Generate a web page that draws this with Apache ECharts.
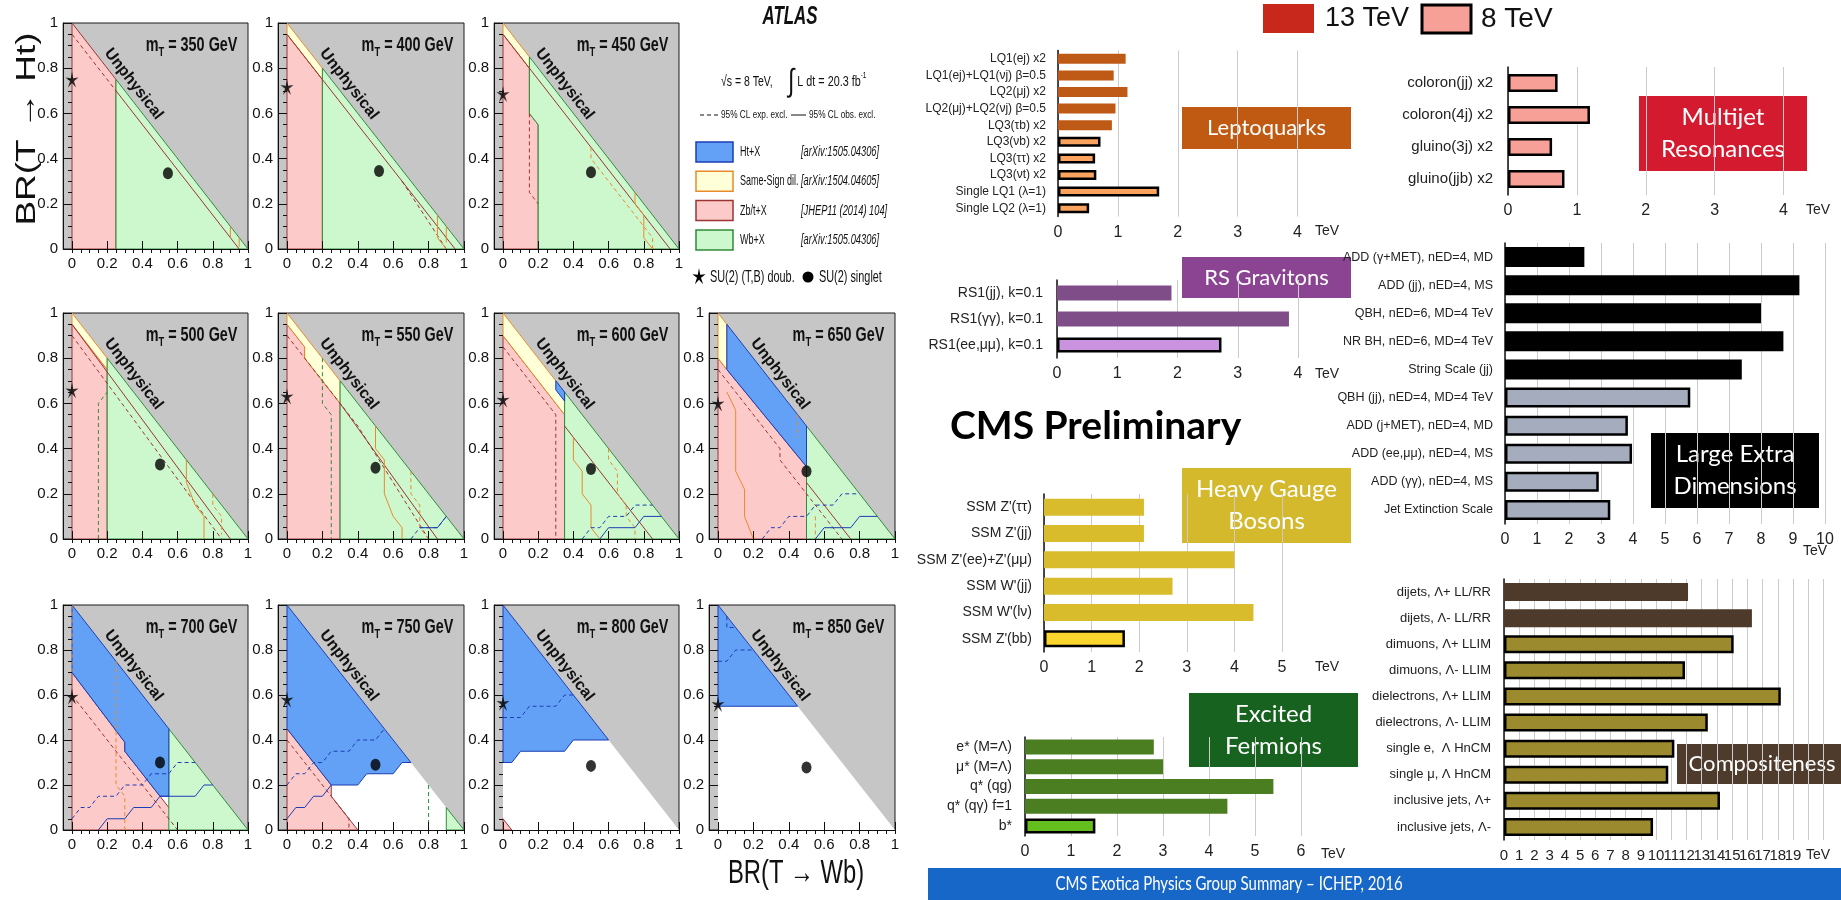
<!DOCTYPE html>
<html>
<head>
<meta charset="utf-8">
<script src="https://cdn.jsdelivr.net/npm/echarts@6/dist/echarts.min.js"></script>
<style>
html, body { margin: 0; padding: 0; background: #fff; }
#c { width: 1841px; height: 900px; }
</style>
</head>
<body>
<div id="c"></div>
<script>
// ================= ATLAS: vector-like T quark, BR plane exclusions =================
const massPoints = [350, 400, 450, 500, 550, 600, 650, 700, 750, 800, 850];
// SU(2) (T,B) doublet: BR(T->Wb)=0, BR(T->Ht) below
const doubletHt = [0.75, 0.717, 0.686, 0.658, 0.631, 0.617, 0.60, 0.593, 0.58, 0.565, 0.56];
// SU(2) singlet
const singletWb = [0.545, 0.52, 0.5, 0.5, 0.5, 0.5, 0.5, 0.5, 0.5, 0.5, 0.5];
const singletHt = [0.335, 0.345, 0.34, 0.33, 0.315, 0.31, 0.30, 0.30, 0.29, 0.285, 0.278];

// excluded regions, points are [BR(T->Wb), BR(T->Ht)], one entry per mass point
const excludedZbt = [
  [[0,0],[0,1],[0.25,0.75],[0.25,0]],
  [[0,0],[0,0.95],[0.2,0.75],[0.2,0]],
  [[0,0],[0,0.95],[0.15,0.8],[0.15,0.6],[0.2,0.55],[0.2,0]],
  [[0,0],[0,0.95],[0.2,0.75],[0.2,0]],
  [[0,0],[0,0.95],[0.1,0.85],[0.1,0.8],[0.3,0.6],[0.3,0]],
  [[0,0],[0,0.9],[0.35,0.55],[0.35,0]],
  [[0,0],[0,0.8],[0.05,0.75],[0.5,0.32],[0.5,0]],
  [[0,0],[0,0.7],[0.3,0.39],[0.3,0.35],[0.65,0]],
  [[0,0],[0,0.45],[0.25,0.2],[0.25,0.15],[0.4,0]],
  [[0,0],[0,0.05],[0.05,0]],
  null
];
const excludedSSdil = [
  null,
  [[0,1],[0.2,0.8],[0.2,0.75],[0,0.95]],
  [[0,1],[0.15,0.85],[0.15,0.8],[0,0.95]],
  [[0,1],[0.2,0.8],[0.2,0.75],[0,0.95]],
  [[0,1],[0.3,0.7],[0.3,0.6],[0.1,0.8],[0.1,0.85],[0,0.95]],
  [[0,1],[0.35,0.65],[0.35,0.55],[0,0.9]],
  [[0,1],[0.05,0.95],[0.05,0.75],[0,0.8]],
  null, null, null, null
];
const excludedWb = [
  [[0.25,0],[0.25,0.75],[1,0]],
  [[0.2,0],[0.2,0.8],[1,0]],
  [[0.2,0],[0.2,0.55],[0.15,0.6],[0.15,0.85],[1,0]],
  [[0.2,0],[0.2,0.8],[1,0]],
  [[0.3,0],[0.3,0.7],[1,0]],
  [[0.35,0],[0.35,0.65],[1,0]],
  [[0.5,0],[0.5,0.5],[1,0]],
  [[0.55,0],[0.55,0.45],[1,0]],
  [[0.9,0],[0.9,0.1],[1,0]],
  null, null
];
const excludedHt = [
  null, null, null, null, null,
  [[0.3,0.7],[0.35,0.65],[0.35,0.61],[0.3,0.66]],
  [[0.05,0.95],[0.5,0.5],[0.5,0.32],[0.05,0.75]],
  [[0,1],[0.55,0.45],[0.55,0.15],[0.5,0.15],[0.3,0.35],[0.3,0.39],[0,0.7]],
  [[0,1],[0.7,0.3],[0.65,0.3],[0.6,0.25],[0.45,0.25],[0.4,0.2],[0.25,0.2],[0,0.45]],
  [[0,1],[0.6,0.4],[0.4,0.4],[0.35,0.35],[0.1,0.35],[0.05,0.3],[0,0.3]],
  [[0,1],[0.45,0.55],[0,0.55]]
];

// 95% CL contours: [mass index, analysis, 'obs' | 'exp', points]
const limitContours = [
  [0,'Zbt','obs',[[0.25,0.7],[0.95,0]]],
  [0,'Zbt','exp',[[0,0.95],[0.25,0.7]]],
  [0,'SS','obs',[[0.9,0.1],[0.9,0.05]]],
  [0,'SS','obs',[[0.95,0.05],[0.95,0.01]]],
  [1,'Zbt','obs',[[0,0.95],[0.95,0]]],
  [1,'Zbt','exp',[[0.65,0.3],[0.9,0]]],
  [1,'SS','obs',[[0.85,0.15],[0.85,0.05],[0.9,0]]],
  [1,'SS','obs',[[0.9,0.1],[0.9,0.03]]],
  [2,'Zbt','obs',[[0,0.95],[0.95,0]]],
  [2,'Zbt','exp',[[0.15,0.6],[0.15,0.25],[0.2,0.2]]],
  [2,'SS','exp',[[0.5,0.45],[0.5,0.4],[0.85,0.05],[0.85,0]]],
  [2,'SS','obs',[[0.75,0.25],[0.75,0.2],[0.8,0.15],[0.8,0.05],[0.85,0]]],
  [3,'Zbt','obs',[[0,0.95],[0.9,0]]],
  [3,'Zbt','exp',[[0,0.9],[0.85,0]]],
  [3,'Wb','exp',[[0.15,0],[0.15,0.6],[0.2,0.65]]],
  [3,'SS','obs',[[0.65,0.35],[0.65,0.25],[0.7,0.15],[0.75,0.1],[0.75,0]]],
  [3,'SS','exp',[[0.8,0.2],[0.8,0.15],[0.85,0.1],[0.85,0.02]]],
  [4,'Zbt','obs',[[0.3,0.6],[0.85,0]]],
  [4,'Zbt','exp',[[0,0.9],[0.1,0.8],[0.4,0.5],[0.8,0]]],
  [4,'Wb','exp',[[0.2,0.8],[0.2,0.6],[0.25,0.55],[0.25,0]]],
  [4,'SS','obs',[[0.5,0.5],[0.5,0.4],[0.55,0.35],[0.55,0.2],[0.6,0.1],[0.65,0.05],[0.65,0]]],
  [4,'SS','exp',[[0.7,0.3],[0.7,0.2],[0.75,0.15],[0.75,0.05],[0.8,0]]],
  [4,'Ht','obs',[[0.75,0.05],[0.85,0.05],[0.9,0.1]]],
  [4,'Ht','exp',[[0.7,0],[0.75,0.05],[0.85,0.05],[0.9,0.1]]],
  [5,'Zbt','obs',[[0.35,0.5],[0.85,0]]],
  [5,'Zbt','exp',[[0,0.85],[0.3,0.55],[0.3,0]]],
  [5,'SS','obs',[[0.4,0.45],[0.4,0.35],[0.45,0.3],[0.45,0.2],[0.5,0.15],[0.5,0.05],[0.55,0]]],
  [5,'SS','exp',[[0.6,0.4],[0.6,0.35],[0.65,0.3],[0.65,0.2],[0.7,0.15],[0.7,0.1],[0.75,0.05],[0.75,0]]],
  [5,'Ht','exp',[[0.45,0],[0.5,0.05],[0.55,0.05],[0.6,0.1],[0.7,0.1],[0.75,0.15],[0.85,0.15]]],
  [5,'Ht','obs',[[0.55,0],[0.6,0.05],[0.75,0.05],[0.8,0.1],[0.9,0.1]]],
  [6,'SS','obs',[[0.05,0.65],[0.1,0.57],[0.1,0.3],[0.15,0.22],[0.15,0.1],[0.2,0]]],
  [6,'Zbt','exp',[[0,0.75],[0.35,0.4],[0.35,0.35],[0.5,0.2],[0.7,0]]],
  [6,'Zbt','obs',[[0.5,0.25],[0.75,0]]],
  [6,'SS','exp',[[0.45,0.55],[0.45,0.45]]],
  [6,'SS','exp',[[0.55,0.1],[0.55,0]]],
  [6,'Ht','exp',[[0.25,0],[0.3,0.05],[0.35,0.05],[0.4,0.1],[0.5,0.1],[0.55,0.15],[0.65,0.15],[0.7,0.2],[0.8,0.2]]],
  [6,'Ht','obs',[[0.55,0],[0.6,0.05],[0.75,0.05],[0.8,0.1],[0.9,0.1]]],
  [7,'SS','exp',[[0,1],[0,0.7]]],
  [7,'SS','exp',[[0.25,0.75],[0.25,0.2],[0.3,0.15],[0.3,0]]],
  [7,'Zbt','exp',[[0,0.6],[0.6,0]]],
  [7,'Ht','exp',[[0,0.05],[0.05,0.1],[0.1,0.1],[0.15,0.15],[0.25,0.15],[0.3,0.2],[0.4,0.2],[0.45,0.25],[0.55,0.25],[0.6,0.3],[0.7,0.3]]],
  [7,'Ht','obs',[[0.15,0],[0.2,0.05],[0.3,0.05],[0.35,0.1],[0.45,0.1],[0.5,0.15],[0.7,0.15],[0.75,0.2],[0.8,0.2]]],
  [8,'Zbt','exp',[[0,0.4],[0.35,0.05],[0.35,0]]],
  [8,'Wb','exp',[[0.8,0.2],[0.8,0]]],
  [8,'Ht','exp',[[0,0.2],[0.05,0.25],[0.1,0.25],[0.15,0.3],[0.2,0.3],[0.25,0.35],[0.35,0.35],[0.4,0.4],[0.5,0.4],[0.55,0.45]]],
  [8,'Ht','obs',[[0,0.05],[0.05,0.1],[0.1,0.1],[0.15,0.15],[0.2,0.15],[0.25,0.2]]],
  [9,'Ht','exp',[[0,0.5],[0.1,0.5],[0.15,0.55],[0.3,0.55],[0.35,0.6],[0.4,0.6]]],
  [10,'Ht','exp',[[0,0.75],[0.05,0.75],[0.1,0.8],[0.2,0.8]]],
  [10,'Ht','exp',[[0.05,0.95],[0.05,0.9],[0.1,0.9]]]
];

const brMajorTicks = [0, 0.2, 0.4, 0.6, 0.8, 1];
const brMinorTicks = [0, 0.05, 0.1, 0.15, 0.2, 0.25, 0.3, 0.35, 0.4, 0.45, 0.5, 0.55, 0.6, 0.65, 0.7, 0.75, 0.8, 0.85, 0.9, 0.95, 1];
const physicalTriangle = [[0, 0], [0, 1], [1, 0]];

// ================= CMS exotica summary (limits in TeV) =================
const lqNames = ['LQ1(ej) x2', 'LQ1(ej)+LQ1(νj) β=0.5', 'LQ2(μj) x2', 'LQ2(μj)+LQ2(νj) β=0.5', 'LQ3(τb) x2', 'LQ3(νb) x2', 'LQ3(ττ) x2', 'LQ3(νt) x2', 'Single LQ1 (λ=1)', 'Single LQ2 (λ=1)'];
const lqLimits = [1.13, 0.93, 1.16, 0.96, 0.9, 0.71, 0.62, 0.64, 1.69, 0.52];
const lqEnergy = [13, 13, 13, 13, 13, 8, 8, 8, 8, 8];

const rsNames = ['RS1(jj), k=0.1', 'RS1(γγ), k=0.1', 'RS1(ee,μμ), k=0.1'];
const rsLimits = [1.9, 3.85, 2.73];
const rsEnergy = [13, 13, 8];

const mjNames = ['coloron(jj) x2', 'coloron(4j) x2', 'gluino(3j) x2', 'gluino(jjb) x2'];
const mjLimits = [0.72, 1.19, 0.64, 0.82];
const mjEnergy = [8, 8, 8, 8];

const ledNames = ['ADD (γ+MET), nED=4, MD', 'ADD (jj), nED=4, MS', 'QBH, nED=6, MD=4 TeV', 'NR BH, nED=6, MD=4 TeV', 'String Scale (jj)', 'QBH (jj), nED=4, MD=4 TeV', 'ADD (j+MET), nED=4, MD', 'ADD (ee,μμ), nED=4, MS', 'ADD (γγ), nED=4, MS', 'Jet Extinction Scale'];
const ledLimits = [2.48, 9.2, 8.0, 8.7, 7.4, 5.79, 3.84, 3.97, 2.93, 3.29];
const ledEnergy = [13, 13, 13, 13, 13, 8, 8, 8, 8, 8];

const hgbNames = ["SSM Z'(ττ)", "SSM Z'(jj)", "SSM Z'(ee)+Z'(μμ)", "SSM W'(jj)", "SSM W'(lν)", "SSM Z'(bb)"];
const hgbLimits = [2.1, 2.1, 4.0, 2.7, 4.4, 1.7];
const hgbEnergy = [13, 13, 13, 13, 13, 8];

const efNames = ['e* (M=Λ)', 'μ* (M=Λ)', 'q* (qg)', 'q* (qγ) f=1', 'b*'];
const efLimits = [2.8, 3.0, 5.4, 4.4, 1.53];
const efEnergy = [13, 13, 13, 13, 8];

const compNames = ['dijets, Λ+ LL/RR', 'dijets, Λ- LL/RR', 'dimuons, Λ+ LLIM', 'dimuons, Λ- LLIM', 'dielectrons, Λ+ LLIM', 'dielectrons, Λ- LLIM', 'single e,  Λ HnCM', 'single μ, Λ HnCM', 'inclusive jets, Λ+', 'inclusive jets, Λ-'];
const compLimits = [12.1, 16.3, 15.1, 11.9, 18.2, 13.4, 11.2, 10.8, 14.2, 9.8];
const compEnergy = [13, 13, 8, 8, 8, 8, 8, 8, 8, 8];

// ================= styling =================
const NARROW = '"Liberation Sans Narrow", "Liberation Sans", Arial, sans-serif';
const SANS = '"Liberation Sans", Arial, sans-serif';
const GOTHIC = 'Lato, "Open Sans", sans-serif';
const analysisStyle = {
  Ht:  { fill: '#62a1f6', line: '#1c3db5' },
  SS:  { fill: '#ffffd8', line: '#e88a2c' },
  Zbt: { fill: '#fdcaca', line: '#9c3434' },
  Wb:  { fill: '#cdf7cd', line: '#2f8c3b' }
};
const unphysicalGray = '#c6c6c6';

// panel placement: [row, col] for each mass point
const panelSlots = [[0,0],[0,1],[0,2],[1,0],[1,1],[1,2],[1,3],[2,0],[2,1],[2,2],[2,3]];
const colGeom = [{ x0: 72, u: 176 }, { x0: 287, u: 177 }, { x0: 503, u: 176 }, { x0: 718, u: 177 }];
const rowGeom = [{ top: 23, bottom: 249 }, { top: 313, bottom: 539 }, { top: 605, bottom: 830 }];

const option = { animation: false, backgroundColor: '#fff', grid: [], xAxis: [], yAxis: [], series: [], graphic: [] };

function starPoints(cx, cy, rx, ry) {
  const pts = [];
  for (let k = 0; k < 10; k++) {
    const a = -Math.PI / 2 + k * Math.PI / 5;
    const f = k % 2 ? 0.3 : 1;
    pts.push([cx + f * rx * Math.cos(a), cy + f * ry * Math.sin(a)]);
  }
  return pts;
}
const STAR = 'path://' + starPoints(0, 0, 10, 10).map((p, k) => (k ? 'L' : 'M') + p[0].toFixed(2) + ',' + p[1].toFixed(2)).join(' ') + ' Z';

function polygonSeries(xi, yi, pts, fill, stroke) {
  return {
    type: 'custom', xAxisIndex: xi, yAxisIndex: yi, silent: true,
    data: [pts[0]], encode: { x: 0, y: 1 },
    renderItem: (p, api) => ({
      type: 'polygon',
      shape: { points: pts.map(q => api.coord(q)) },
      style: { fill: fill, stroke: stroke || 'none', lineWidth: stroke ? 1 : 0 }
    })
  };
}

function addAtlasPanel(i) {
  const slot = panelSlots[i];
  const col = colGeom[slot[1]], row = rowGeom[slot[0]];
  const g = option.grid.length;
  option.grid.push({
    left: col.x0 - 0.05 * col.u, top: row.top, width: 1.05 * col.u, height: row.bottom - row.top,
    show: true, backgroundColor: unphysicalGray, borderColor: '#1a1a1a', borderWidth: 1
  });
  const xi = option.xAxis.length, yi = option.yAxis.length;
  const lbl = { fontFamily: NARROW, fontSize: 15, color: '#111' };
  option.xAxis.push({
    gridIndex: g, type: 'value', min: -0.05, max: 1, z: 10,
    axisLine: { onZero: false, lineStyle: { color: '#111', width: 1 } },
    axisTick: { inside: true, length: 8, customValues: brMajorTicks, lineStyle: { color: '#111' } },
    axisLabel: Object.assign({ customValues: brMajorTicks, margin: 7 }, lbl),
    splitLine: { show: false }
  });
  option.xAxis.push({
    gridIndex: g, type: 'value', min: -0.05, max: 1, z: 10,
    axisLine: { show: false },
    axisTick: { inside: true, length: 4, customValues: brMinorTicks, lineStyle: { color: '#111' } },
    axisLabel: { show: false }, splitLine: { show: false }
  });
  option.yAxis.push({
    gridIndex: g, type: 'value', min: 0, max: 1, z: 10,
    axisLine: { onZero: false, lineStyle: { color: '#111', width: 1 } },
    axisTick: { inside: true, length: 8, customValues: brMajorTicks, lineStyle: { color: '#111' } },
    axisLabel: Object.assign({ customValues: brMajorTicks, margin: 5 }, lbl),
    splitLine: { show: false }
  });
  option.yAxis.push({
    gridIndex: g, type: 'value', min: 0, max: 1, z: 10,
    axisLine: { show: false },
    axisTick: { inside: true, length: 4, customValues: brMinorTicks, lineStyle: { color: '#111' } },
    axisLabel: { show: false }, splitLine: { show: false }
  });

  // physical region
  option.series.push(polygonSeries(xi, yi, physicalTriangle, '#ffffff', null));
  // excluded regions
  [['Zbt', excludedZbt], ['SS', excludedSSdil], ['Wb', excludedWb], ['Ht', excludedHt]].forEach(([key, arr]) => {
    if (arr[i]) option.series.push(polygonSeries(xi, yi, arr[i], analysisStyle[key].fill, analysisStyle[key].line));
  });
  // limit contours
  limitContours.filter(c => c[0] === i).forEach(c => {
    option.series.push({
      type: 'line', xAxisIndex: xi, yAxisIndex: yi, silent: true, symbol: 'none',
      data: c[3],
      lineStyle: { color: analysisStyle[c[1]].line, width: 1, type: c[2] === 'exp' ? [4, 3] : 'solid' }
    });
  });
  // benchmark models
  option.series.push({
    type: 'scatter', xAxisIndex: xi, yAxisIndex: yi, silent: true, z: 5,
    symbol: STAR, symbolSize: [13, 16], itemStyle: { color: '#000' },
    data: [[0, doubletHt[i]]]
  });
  option.series.push({
    type: 'scatter', xAxisIndex: xi, yAxisIndex: yi, silent: true, z: 5,
    symbol: 'circle', symbolSize: [10, 12], itemStyle: { color: '#000' },
    data: [[singletWb[i], singletHt[i]]]
  });
  // annotations
  const mass = massPoints[i];
  option.series.push({
    type: 'custom', xAxisIndex: xi, yAxisIndex: yi, silent: true, z: 6,
    data: [[0.35, 0.73]], encode: { x: 0, y: 1 },
    renderItem: (p, api) => {
      const c = api.coord([0.35, 0.73]);
      const t = api.coord([0.94, 0.9]);
      return {
        type: 'group',
        children: [
          { type: 'text', x: c[0], y: c[1], rotation: -0.91,
            style: { text: 'Unphysical', font: 'bold 16px ' + NARROW, fill: '#111', align: 'center', verticalAlign: 'middle' } },
          { type: 'text', x: t[0], y: t[1], scaleX: 0.72,
            style: {
              text: '{m|m}{s|T}{m| = ' + mass + ' GeV}', align: 'right', verticalAlign: 'middle',
              rich: {
                m: { fontFamily: NARROW, fontWeight: 'bold', fontSize: 20, fill: '#111' },
                s: { fontFamily: NARROW, fontWeight: 'bold', fontSize: 13, fill: '#111', padding: [13, 0, 0, 0] }
              }
            } }
        ]
      };
    }
  });
}
massPoints.forEach((m, i) => addAtlasPanel(i));

// axis titles for the BR plane
option.graphic.push({
  type: 'text', x: 27, y: 129, rotation: Math.PI / 2, scaleY: 0.75,
  style: { text: 'BR(T → Ht)', font: '37px ' + SANS, fill: '#111', align: 'center', verticalAlign: 'middle' }
});
option.graphic.push({
  type: 'text', x: 796, y: 874, scaleX: 0.7,
  style: { text: 'BR(T → Wb)', font: '34px ' + SANS, fill: '#111', align: 'center', verticalAlign: 'middle' }
});

// ATLAS legend block
const atlasLegend = [
  ['Ht', 'Ht+X', '[arXiv:1505.04306]'],
  ['SS', 'Same-Sign dil.', '[arXiv:1504.04605]'],
  ['Zbt', 'Zb/t+X', '[JHEP11 (2014) 104]'],
  ['Wb', 'Wb+X', '[arXiv:1505.04306]']
];
option.graphic.push({
  type: 'text', x: 790, y: 17, scaleX: 0.65,
  style: { text: 'ATLAS', font: 'italic bold 26px ' + SANS, fill: '#111', align: 'center', verticalAlign: 'middle' }
});
option.graphic.push({
  type: 'text', x: 721, y: 82, scaleX: 0.7,
  style: { text: '√s = 8 TeV,', font: '15px ' + NARROW, fill: '#111', verticalAlign: 'middle' }
});
option.graphic.push({
  type: 'text', x: 788, y: 82, scaleX: 0.72,
  style: {
    text: '{i|∫}{t| L dt = 20.3 fb}{s|-1}', verticalAlign: 'middle',
    rich: {
      i: { fontFamily: SANS, fontSize: 32, fill: '#111' },
      t: { fontFamily: NARROW, fontSize: 15, fill: '#111' },
      s: { fontFamily: NARROW, fontSize: 9, fill: '#111', padding: [0, 0, 12, 0] }
    }
  }
});
option.graphic.push({ type: 'line', shape: { x1: 700, y1: 115, x2: 719, y2: 115 }, style: { stroke: '#111', lineWidth: 1, lineDash: [4, 3] } });
option.graphic.push({ type: 'text', x: 721, y: 115, scaleX: 0.75, style: { text: '95% CL exp. excl.', font: '11px ' + NARROW, fill: '#111', verticalAlign: 'middle' } });
option.graphic.push({ type: 'line', shape: { x1: 791, y1: 115, x2: 806, y2: 115 }, style: { stroke: '#111', lineWidth: 1 } });
option.graphic.push({ type: 'text', x: 809, y: 115, scaleX: 0.75, style: { text: '95% CL obs. excl.', font: '11px ' + NARROW, fill: '#111', verticalAlign: 'middle' } });
atlasLegend.forEach((row, k) => {
  const y = 142 + k * 29.3;
  option.graphic.push({ type: 'rect', shape: { x: 696, y: y, width: 37, height: 20 },
    style: { fill: analysisStyle[row[0]].fill, stroke: analysisStyle[row[0]].line, lineWidth: 1.5 } });
  option.graphic.push({ type: 'text', x: 740, y: y + 10, scaleX: 0.6,
    style: { text: row[1], font: '15px ' + NARROW, fill: '#111', verticalAlign: 'middle' } });
  option.graphic.push({ type: 'text', x: 801, y: y + 10, scaleX: 0.62,
    style: { text: row[2], font: 'italic 15px ' + NARROW, fill: '#111', verticalAlign: 'middle' } });
});
option.graphic.push({ type: 'polygon', shape: { points: starPoints(699, 277, 7, 9) }, style: { fill: '#000' } });
option.graphic.push({ type: 'text', x: 710, y: 277, scaleX: 0.64, style: { text: 'SU(2) (T,B) doub.', font: '17px ' + NARROW, fill: '#111', verticalAlign: 'middle' } });
option.graphic.push({ type: 'circle', shape: { cx: 808, cy: 277, r: 5.5 }, style: { fill: '#000' } });
option.graphic.push({ type: 'text', x: 819, y: 277, scaleX: 0.64, style: { text: 'SU(2) singlet', font: '17px ' + NARROW, fill: '#111', verticalAlign: 'middle' } });

// ================= CMS bar panels =================
const cmsPanels = [
  { names: lqNames, vals: lqLimits, en: lqEnergy, c13: '#bf5a16', c8: '#f9a35e', left: 1058, top: 50.5, width: 239.5, height: 166, max: 4, barW: 10,
    labelSize: 12, labelMargin: 12, unit: [1327, 231], box: [1182, 107, 169, 42], boxColor: '#c05a12', boxText: 'Leptoquarks', boxFont: 22 },
  { names: rsNames, vals: rsLimits, en: rsEnergy, c13: '#7f4e89', c8: '#c993e0', left: 1057, top: 280, width: 241, height: 78, max: 4, barW: 15,
    labelSize: 14, labelMargin: 14, unit: [1327, 374], box: [1182, 257, 169, 41], boxColor: '#8b4492', boxText: 'RS Gravitons', boxFont: 22 },
  { names: mjNames, vals: mjLimits, en: mjEnergy, c13: '#c8281c', c8: '#f7a097', left: 1508, top: 67, width: 275.5, height: 128, max: 4, barW: 18,
    labelSize: 15, labelMargin: 15, unit: [1818, 210], box: [1639, 96, 168, 75], boxColor: '#d41a2e', boxText: 'Multijet\nResonances', boxFont: 24 },
  { names: ledNames, vals: ledLimits, en: ledEnergy, c13: '#000000', c8: '#a4acbd', left: 1505, top: 243, width: 320, height: 281, max: 10, barW: 20,
    labelSize: 12.5, labelMargin: 12, unit: [1815, 551], box: [1651, 433, 168, 75], boxColor: '#000000', boxText: 'Large Extra\nDimensions', boxFont: 24 },
  { names: hgbNames, vals: hgbLimits, en: hgbEnergy, c13: '#d9bc2b', c8: '#fad52e', left: 1044, top: 494, width: 238, height: 158, max: 5, barW: 17,
    labelSize: 14, labelMargin: 12, unit: [1327, 667], box: [1182, 468, 169, 75], boxColor: '#d5b92d', boxText: 'Heavy Gauge\nBosons', boxFont: 24 },
  { names: efNames, vals: efLimits, en: efEnergy, c13: '#4b7d21', c8: '#64be1e', left: 1025, top: 737, width: 276, height: 99, max: 6, barW: 15,
    labelSize: 14, labelMargin: 13, unit: [1333, 854], box: [1189, 693, 169, 74], boxColor: '#16621e', boxText: 'Excited\nFermions', boxFont: 24 },
  { names: compNames, vals: compLimits, en: compEnergy, c13: '#4e3a2a', c8: '#9b8b2e', left: 1504, top: 579, width: 319.4, height: 261, max: 21, barW: 18,
    labelSize: 13, labelMargin: 13, unit: [1818, 855], box: [1677, 744, 170, 40], boxColor: '#4f3b2b', boxText: 'Compositeness', boxFont: 22, tickMax: 19, tickFont: 15 }
];

cmsPanels.forEach(pn => {
  const g = option.grid.length;
  option.grid.push({ left: pn.left, top: pn.top, width: pn.width, height: pn.height });
  const xi = option.xAxis.length, yi = option.yAxis.length;
  option.xAxis.push({
    gridIndex: g, type: 'value', min: 0, max: pn.max, interval: 1,
    axisLine: { show: false }, axisTick: { show: false },
    splitLine: { show: true, lineStyle: { color: '#cbcbcb', width: 1 } },
    axisLabel: {
      fontFamily: pn.tickFont ? NARROW : SANS, fontSize: pn.tickFont || 16, color: '#222', margin: 8,
      formatter: v => (pn.tickMax !== undefined && v > pn.tickMax) ? '' : String(v)
    }
  });
  option.yAxis.push({
    gridIndex: g, type: 'category', inverse: true, data: pn.names,
    axisLine: { show: true, lineStyle: { color: '#111', width: 1.5 } },
    axisTick: { show: false },
    axisLabel: { fontFamily: NARROW, fontSize: pn.labelSize, color: '#222', margin: pn.labelMargin }
  });
  option.series.push({
    type: 'bar', xAxisIndex: xi, yAxisIndex: yi, barWidth: pn.barW, silent: true,
    data: pn.vals.map((v, k) => ({
      value: v,
      itemStyle: pn.en[k] === 8 ? { color: pn.c8, borderColor: '#000', borderWidth: 2.5 } : { color: pn.c13 }
    }))
  });
  option.graphic.push({ type: 'text', x: pn.unit[0], y: pn.unit[1],
    style: { text: 'TeV', font: '14px ' + NARROW, fill: '#222', align: 'center', verticalAlign: 'middle' } });
  const b = pn.box;
  option.graphic.push({ type: 'rect', shape: { x: b[0], y: b[1], width: b[2], height: b[3] }, style: { fill: pn.boxColor } });
  option.graphic.push({ type: 'text', x: b[0] + b[2] / 2, y: b[1] + b[3] / 2,
    style: { text: pn.boxText, font: pn.boxFont + 'px ' + GOTHIC, fill: '#fff', align: 'center', verticalAlign: 'middle', lineHeight: 32 } });
});

// energy legend
option.graphic.push({ type: 'rect', shape: { x: 1263, y: 4, width: 51, height: 29 }, style: { fill: '#c8281c' } });
option.graphic.push({ type: 'text', x: 1325, y: 19, style: { text: '13 TeV', font: '27px ' + SANS, fill: '#111', verticalAlign: 'middle' } });
option.graphic.push({ type: 'rect', shape: { x: 1422, y: 5, width: 49, height: 28 }, style: { fill: '#f7a097', stroke: '#000', lineWidth: 3 } });
option.graphic.push({ type: 'text', x: 1481, y: 19, style: { text: '8 TeV', font: '28px ' + SANS, fill: '#111', verticalAlign: 'middle' } });

// headline and footer
option.graphic.push({ type: 'text', x: 950, y: 426,
  style: { text: 'CMS Preliminary', font: 'bold 39px ' + GOTHIC, fill: '#000', verticalAlign: 'middle' } });
option.graphic.push({ type: 'rect', shape: { x: 928, y: 868, width: 913, height: 32 }, style: { fill: '#1767c9' } });
option.graphic.push({ type: 'text', x: 1229, y: 884, scaleX: 0.75,
  style: { text: 'CMS Exotica Physics Group Summary – ICHEP, 2016', font: '20px ' + GOTHIC, fill: '#fff', align: 'center', verticalAlign: 'middle' } });

const chart = echarts.init(document.getElementById('c'), null, { renderer: 'canvas' });
chart.setOption(option);
</script>
</body>
</html>
